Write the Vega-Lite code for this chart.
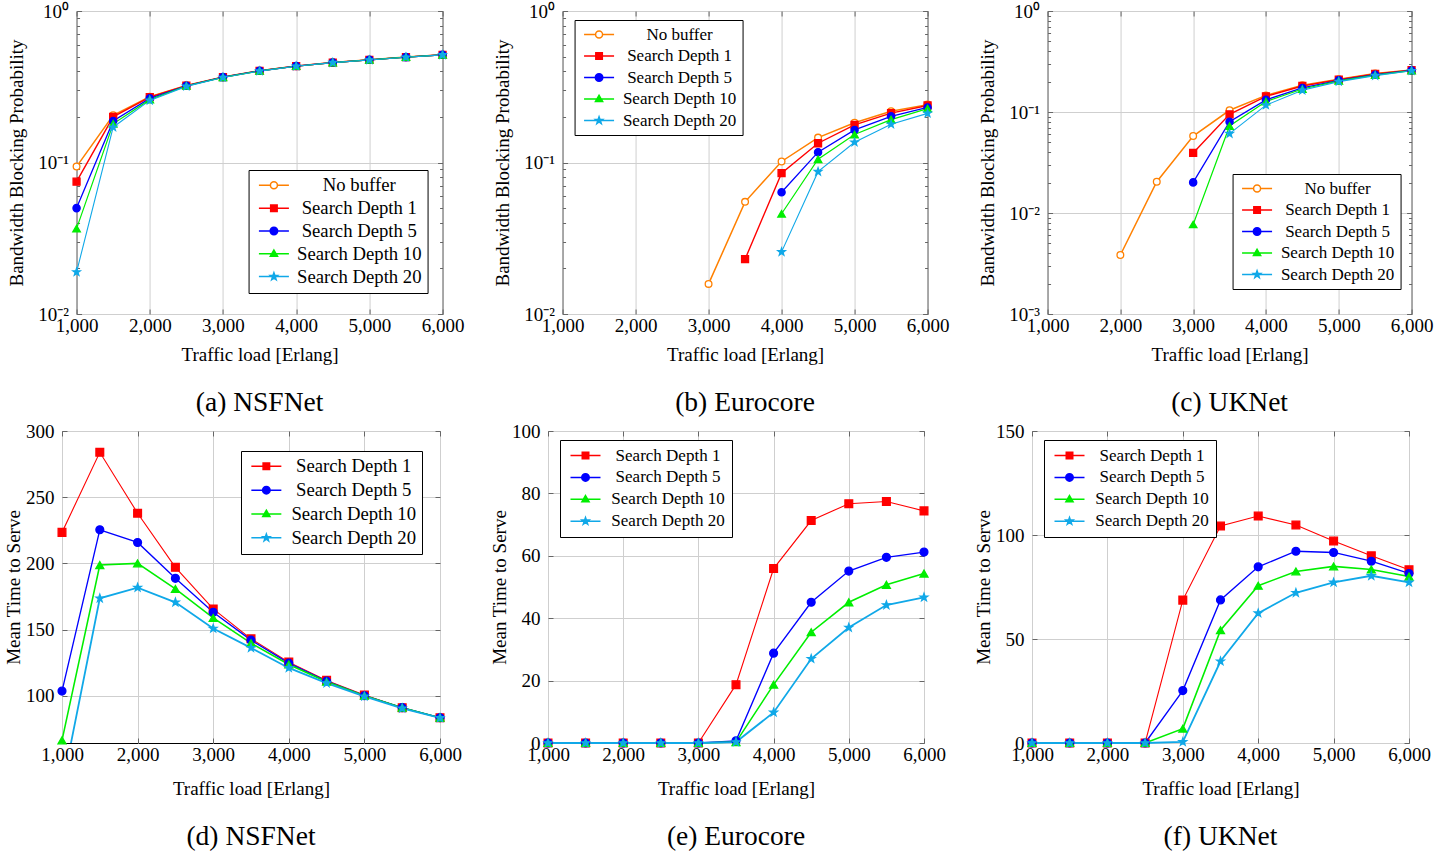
{
"$schema": "https://vega.github.io/schema/vega-lite/v6.json",
"padding": {"left": 3, "top": 1, "right": 0, "bottom": 0},
"background": "white",
"config": {
  "font": "Liberation Serif",
  "view": {"stroke": "black", "strokeWidth": 1},
  "axis": {"labelFont": "Liberation Serif", "titleFont": "Liberation Serif", "labelFontSize": 19, "titleFontSize": 19, "titleFontWeight": "normal", "labelColor": "black", "titleColor": "black", "domain": false, "ticks": true, "tickSize": -5, "tickColor": "#666666", "gridColor": "#cfcfcf", "gridWidth": 1, "labelFlush": false, "labelOverlap": false, "labelPadding": 7, "titlePadding": 10},
  "axisY": {"labelPadding": 13, "titlePadding": 8},
  "legend": {"labelFont": "Liberation Serif", "labelFontSize": 17, "labelColor": "black", "strokeColor": "black", "fillColor": "white", "padding": 7, "symbolSize": 100, "symbolStrokeWidth": 1.5, "labelAlign": "center", "labelOffset": 82, "rowPadding": 3.9, "labelLimit": 400, "symbolOpacity": 1},
  "title": {"font": "Liberation Serif", "fontSize": 27.5, "fontWeight": "normal", "color": "black"}
},
"datasets": {
"a": [
{"x":1000,"s":"No buffer","y":0.094},{"x":1500,"s":"No buffer","y":0.205},{"x":2000,"s":"No buffer","y":0.272},{"x":2500,"s":"No buffer","y":0.323},{"x":3000,"s":"No buffer","y":0.367},{"x":3500,"s":"No buffer","y":0.404},{"x":4000,"s":"No buffer","y":0.434},{"x":4500,"s":"No buffer","y":0.458},{"x":5000,"s":"No buffer","y":0.477},{"x":5500,"s":"No buffer","y":0.497},{"x":6000,"s":"No buffer","y":0.515},
{"x":1000,"s":"Search Depth 1","y":0.0747},{"x":1500,"s":"Search Depth 1","y":0.2},{"x":2000,"s":"Search Depth 1","y":0.27},{"x":2500,"s":"Search Depth 1","y":0.322},{"x":3000,"s":"Search Depth 1","y":0.366},{"x":3500,"s":"Search Depth 1","y":0.403},{"x":4000,"s":"Search Depth 1","y":0.433},{"x":4500,"s":"Search Depth 1","y":0.457},{"x":5000,"s":"Search Depth 1","y":0.476},{"x":5500,"s":"Search Depth 1","y":0.496},{"x":6000,"s":"Search Depth 1","y":0.514},
{"x":1000,"s":"Search Depth 5","y":0.05},{"x":1500,"s":"Search Depth 5","y":0.188},{"x":2000,"s":"Search Depth 5","y":0.265},{"x":2500,"s":"Search Depth 5","y":0.321},{"x":3000,"s":"Search Depth 5","y":0.366},{"x":3500,"s":"Search Depth 5","y":0.403},{"x":4000,"s":"Search Depth 5","y":0.433},{"x":4500,"s":"Search Depth 5","y":0.457},{"x":5000,"s":"Search Depth 5","y":0.476},{"x":5500,"s":"Search Depth 5","y":0.496},{"x":6000,"s":"Search Depth 5","y":0.514},
{"x":1000,"s":"Search Depth 10","y":0.0366},{"x":1500,"s":"Search Depth 10","y":0.18},{"x":2000,"s":"Search Depth 10","y":0.26},{"x":2500,"s":"Search Depth 10","y":0.32},{"x":3000,"s":"Search Depth 10","y":0.365},{"x":3500,"s":"Search Depth 10","y":0.402},{"x":4000,"s":"Search Depth 10","y":0.432},{"x":4500,"s":"Search Depth 10","y":0.456},{"x":5000,"s":"Search Depth 10","y":0.476},{"x":5500,"s":"Search Depth 10","y":0.496},{"x":6000,"s":"Search Depth 10","y":0.514},
{"x":1000,"s":"Search Depth 20","y":0.0189},{"x":1500,"s":"Search Depth 20","y":0.171},{"x":2000,"s":"Search Depth 20","y":0.257},{"x":2500,"s":"Search Depth 20","y":0.318},{"x":3000,"s":"Search Depth 20","y":0.364},{"x":3500,"s":"Search Depth 20","y":0.401},{"x":4000,"s":"Search Depth 20","y":0.432},{"x":4500,"s":"Search Depth 20","y":0.456},{"x":5000,"s":"Search Depth 20","y":0.475},{"x":5500,"s":"Search Depth 20","y":0.495},{"x":6000,"s":"Search Depth 20","y":0.513}
],
"b": [
{"x":3000,"s":"No buffer","y":0.0158},{"x":3500,"s":"No buffer","y":0.055},{"x":4000,"s":"No buffer","y":0.1016},{"x":4500,"s":"No buffer","y":0.146},{"x":5000,"s":"No buffer","y":0.183},{"x":5500,"s":"No buffer","y":0.218},{"x":6000,"s":"No buffer","y":0.241},
{"x":3500,"s":"Search Depth 1","y":0.023},{"x":4000,"s":"Search Depth 1","y":0.085},{"x":4500,"s":"Search Depth 1","y":0.134},{"x":5000,"s":"Search Depth 1","y":0.177},{"x":5500,"s":"Search Depth 1","y":0.212},{"x":6000,"s":"Search Depth 1","y":0.238},
{"x":4000,"s":"Search Depth 5","y":0.0636},{"x":4500,"s":"Search Depth 5","y":0.117},{"x":5000,"s":"Search Depth 5","y":0.164},{"x":5500,"s":"Search Depth 5","y":0.2016},{"x":6000,"s":"Search Depth 5","y":0.231},
{"x":4000,"s":"Search Depth 10","y":0.0459},{"x":4500,"s":"Search Depth 10","y":0.105},{"x":5000,"s":"Search Depth 10","y":0.153},{"x":5500,"s":"Search Depth 10","y":0.192},{"x":6000,"s":"Search Depth 10","y":0.227},
{"x":4000,"s":"Search Depth 20","y":0.0257},{"x":4500,"s":"Search Depth 20","y":0.087},{"x":5000,"s":"Search Depth 20","y":0.136},{"x":5500,"s":"Search Depth 20","y":0.179},{"x":6000,"s":"Search Depth 20","y":0.211}
],
"c": [
{"x":2000,"s":"No buffer","y":0.00384},{"x":2500,"s":"No buffer","y":0.0204},{"x":3000,"s":"No buffer","y":0.0578},{"x":3500,"s":"No buffer","y":0.104},{"x":4000,"s":"No buffer","y":0.146},{"x":4500,"s":"No buffer","y":0.184},{"x":5000,"s":"No buffer","y":0.211},{"x":5500,"s":"No buffer","y":0.24},{"x":6000,"s":"No buffer","y":0.26},
{"x":3000,"s":"Search Depth 1","y":0.0393},{"x":3500,"s":"Search Depth 1","y":0.0948},{"x":4000,"s":"Search Depth 1","y":0.143},{"x":4500,"s":"Search Depth 1","y":0.181},{"x":5000,"s":"Search Depth 1","y":0.209},{"x":5500,"s":"Search Depth 1","y":0.238},{"x":6000,"s":"Search Depth 1","y":0.26},
{"x":3000,"s":"Search Depth 5","y":0.0201},{"x":3500,"s":"Search Depth 5","y":0.08},{"x":4000,"s":"Search Depth 5","y":0.132},{"x":4500,"s":"Search Depth 5","y":0.173},{"x":5000,"s":"Search Depth 5","y":0.206},{"x":5500,"s":"Search Depth 5","y":0.234},{"x":6000,"s":"Search Depth 5","y":0.258},
{"x":3000,"s":"Search Depth 10","y":0.0077},{"x":3500,"s":"Search Depth 10","y":0.0727},{"x":4000,"s":"Search Depth 10","y":0.127},{"x":4500,"s":"Search Depth 10","y":0.169},{"x":5000,"s":"Search Depth 10","y":0.203},{"x":5500,"s":"Search Depth 10","y":0.232},{"x":6000,"s":"Search Depth 10","y":0.257},
{"x":3500,"s":"Search Depth 20","y":0.061},{"x":4000,"s":"Search Depth 20","y":0.117},{"x":4500,"s":"Search Depth 20","y":0.164},{"x":5000,"s":"Search Depth 20","y":0.2},{"x":5500,"s":"Search Depth 20","y":0.229},{"x":6000,"s":"Search Depth 20","y":0.256}
],
"d": [
{"x":1000,"s":"Search Depth 1","y":223.4},{"x":1500,"s":"Search Depth 1","y":283.9},{"x":2000,"s":"Search Depth 1","y":237.9},{"x":2500,"s":"Search Depth 1","y":197},{"x":3000,"s":"Search Depth 1","y":165.6},{"x":3500,"s":"Search Depth 1","y":143},{"x":4000,"s":"Search Depth 1","y":125.4},{"x":4500,"s":"Search Depth 1","y":111.6},{"x":5000,"s":"Search Depth 1","y":100.5},{"x":5500,"s":"Search Depth 1","y":91},{"x":6000,"s":"Search Depth 1","y":83.4},
{"x":1000,"s":"Search Depth 5","y":103.5},{"x":1500,"s":"Search Depth 5","y":225.4},{"x":2000,"s":"Search Depth 5","y":215.8},{"x":2500,"s":"Search Depth 5","y":188.7},{"x":3000,"s":"Search Depth 5","y":163},{"x":3500,"s":"Search Depth 5","y":142},{"x":4000,"s":"Search Depth 5","y":124.6},{"x":4500,"s":"Search Depth 5","y":111},{"x":5000,"s":"Search Depth 5","y":100},{"x":5500,"s":"Search Depth 5","y":91},{"x":6000,"s":"Search Depth 5","y":83.4},
{"x":1000,"s":"Search Depth 10","y":66.3},{"x":1500,"s":"Search Depth 10","y":198.7},{"x":2000,"s":"Search Depth 10","y":200},{"x":2500,"s":"Search Depth 10","y":180.7},{"x":3000,"s":"Search Depth 10","y":158.8},{"x":3500,"s":"Search Depth 10","y":139.7},{"x":4000,"s":"Search Depth 10","y":123.6},{"x":4500,"s":"Search Depth 10","y":110.6},{"x":5000,"s":"Search Depth 10","y":100},{"x":5500,"s":"Search Depth 10","y":91},{"x":6000,"s":"Search Depth 10","y":83.4},
{"x":1000,"s":"Search Depth 20","y":30.2},{"x":1500,"s":"Search Depth 20","y":173.6},{"x":2000,"s":"Search Depth 20","y":181.7},{"x":2500,"s":"Search Depth 20","y":170.6},{"x":3000,"s":"Search Depth 20","y":150.8},{"x":3500,"s":"Search Depth 20","y":136.2},{"x":4000,"s":"Search Depth 20","y":121},{"x":4500,"s":"Search Depth 20","y":109.5},{"x":5000,"s":"Search Depth 20","y":99.5},{"x":5500,"s":"Search Depth 20","y":90.5},{"x":6000,"s":"Search Depth 20","y":83.2}
],
"e": [
{"x":1000,"s":"Search Depth 1","y":0},{"x":1500,"s":"Search Depth 1","y":0},{"x":2000,"s":"Search Depth 1","y":0},{"x":2500,"s":"Search Depth 1","y":0},{"x":3000,"s":"Search Depth 1","y":0},{"x":3500,"s":"Search Depth 1","y":18.7},{"x":4000,"s":"Search Depth 1","y":55.9},{"x":4500,"s":"Search Depth 1","y":71.3},{"x":5000,"s":"Search Depth 1","y":76.7},{"x":5500,"s":"Search Depth 1","y":77.4},{"x":6000,"s":"Search Depth 1","y":74.4},
{"x":1000,"s":"Search Depth 5","y":0},{"x":1500,"s":"Search Depth 5","y":0},{"x":2000,"s":"Search Depth 5","y":0},{"x":2500,"s":"Search Depth 5","y":0},{"x":3000,"s":"Search Depth 5","y":0},{"x":3500,"s":"Search Depth 5","y":0.7},{"x":4000,"s":"Search Depth 5","y":28.8},{"x":4500,"s":"Search Depth 5","y":45.1},{"x":5000,"s":"Search Depth 5","y":55.1},{"x":5500,"s":"Search Depth 5","y":59.5},{"x":6000,"s":"Search Depth 5","y":61.2},
{"x":1000,"s":"Search Depth 10","y":0},{"x":1500,"s":"Search Depth 10","y":0},{"x":2000,"s":"Search Depth 10","y":0},{"x":2500,"s":"Search Depth 10","y":0},{"x":3000,"s":"Search Depth 10","y":0},{"x":3500,"s":"Search Depth 10","y":0.3},{"x":4000,"s":"Search Depth 10","y":18.7},{"x":4500,"s":"Search Depth 10","y":35.5},{"x":5000,"s":"Search Depth 10","y":45.1},{"x":5500,"s":"Search Depth 10","y":50.7},{"x":6000,"s":"Search Depth 10","y":54.3},
{"x":1000,"s":"Search Depth 20","y":0},{"x":1500,"s":"Search Depth 20","y":0},{"x":2000,"s":"Search Depth 20","y":0},{"x":2500,"s":"Search Depth 20","y":0},{"x":3000,"s":"Search Depth 20","y":0},{"x":3500,"s":"Search Depth 20","y":0.3},{"x":4000,"s":"Search Depth 20","y":9.8},{"x":4500,"s":"Search Depth 20","y":27},{"x":5000,"s":"Search Depth 20","y":37},{"x":5500,"s":"Search Depth 20","y":44.2},{"x":6000,"s":"Search Depth 20","y":46.7}
],
"f": [
{"x":1000,"s":"Search Depth 1","y":0},{"x":1500,"s":"Search Depth 1","y":0},{"x":2000,"s":"Search Depth 1","y":0},{"x":2500,"s":"Search Depth 1","y":0},{"x":3000,"s":"Search Depth 1","y":68.7},{"x":3500,"s":"Search Depth 1","y":104.3},{"x":4000,"s":"Search Depth 1","y":109.1},{"x":4500,"s":"Search Depth 1","y":104.8},{"x":5000,"s":"Search Depth 1","y":97.1},{"x":5500,"s":"Search Depth 1","y":90},{"x":6000,"s":"Search Depth 1","y":83.3},
{"x":1000,"s":"Search Depth 5","y":0},{"x":1500,"s":"Search Depth 5","y":0},{"x":2000,"s":"Search Depth 5","y":0},{"x":2500,"s":"Search Depth 5","y":0},{"x":3000,"s":"Search Depth 5","y":25.2},{"x":3500,"s":"Search Depth 5","y":68.8},{"x":4000,"s":"Search Depth 5","y":84.7},{"x":4500,"s":"Search Depth 5","y":92.2},{"x":5000,"s":"Search Depth 5","y":91.6},{"x":5500,"s":"Search Depth 5","y":87.4},{"x":6000,"s":"Search Depth 5","y":81.5},
{"x":1000,"s":"Search Depth 10","y":0},{"x":1500,"s":"Search Depth 10","y":0},{"x":2000,"s":"Search Depth 10","y":0},{"x":2500,"s":"Search Depth 10","y":0},{"x":3000,"s":"Search Depth 10","y":6.9},{"x":3500,"s":"Search Depth 10","y":54.2},{"x":4000,"s":"Search Depth 10","y":75.6},{"x":4500,"s":"Search Depth 10","y":82.5},{"x":5000,"s":"Search Depth 10","y":84.9},{"x":5500,"s":"Search Depth 10","y":83.4},{"x":6000,"s":"Search Depth 10","y":80},
{"x":1000,"s":"Search Depth 20","y":0},{"x":1500,"s":"Search Depth 20","y":0},{"x":2000,"s":"Search Depth 20","y":0},{"x":2500,"s":"Search Depth 20","y":0},{"x":3000,"s":"Search Depth 20","y":0.5},{"x":3500,"s":"Search Depth 20","y":39.3},{"x":4000,"s":"Search Depth 20","y":62.4},{"x":4500,"s":"Search Depth 20","y":72.2},{"x":5000,"s":"Search Depth 20","y":77.2},{"x":5500,"s":"Search Depth 20","y":80.4},{"x":6000,"s":"Search Depth 20","y":77.2}
]
},
"vconcat": [
{"hconcat": [
    {"width": 366, "height": 303, "data": {"name": "a"},
     "title": {"text": "(a) NSFNet", "orient": "bottom", "offset": 25},
     "resolve": {"scale": {"color": "independent", "fill": "independent", "stroke": "independent", "shape": "independent", "size": "independent", "strokeWidth": "independent"}, "axis": {"x": "independent", "y": "independent"}},
     "layer": [
      {"mark": {"type": "line"},
       "encoding": {
        "x": {"field": "x", "type": "quantitative", "scale": {"domain": [1000, 6000], "nice": false, "zero": false}, "axis": {"orient": "bottom", "values": [1000, 2000, 3000, 4000, 5000, 6000], "format": ",.0f", "title": "Traffic load [Erlang]", "grid": true}},
        "y": {"field": "y", "type": "quantitative", "scale": {"type": "log", "domain": [0.01, 1], "nice": false}, "axis": {"orient": "left", "values": [0.01, 0.1, 1], "labelExpr": "datum.value > 0.5 ? '10⁰' : datum.value > 0.05 ? '10⁻¹' : datum.value > 0.005 ? '10⁻²' : '10⁻³'", "grid": true, "title": "Bandwidth Blocking Probability", "titlePadding": 11}},
        "color": {"field": "s", "type": "nominal", "scale": {"domain": ["No buffer", "Search Depth 1", "Search Depth 5", "Search Depth 10", "Search Depth 20"], "range": ["#ff8000", "#ff0000", "#0000ff", "#00ee00", "#10a8e8"]}, "legend": null},
        "strokeWidth": {"field": "s", "type": "nominal", "scale": {"domain": ["No buffer", "Search Depth 1", "Search Depth 5", "Search Depth 10", "Search Depth 20"], "range": [1.5, 1.1, 1.8, 1.1, 2.6]}, "legend": null}
       }},
      {"mark": {"type": "point", "filled": true, "opacity": 1, "strokeWidth": 1.3},
       "encoding": {
        "x": {"field": "x", "type": "quantitative", "scale": {"domain": [1000, 6000], "nice": false, "zero": false}, "axis": {"orient": "top", "values": [1000, 2000, 3000, 4000, 5000, 6000], "labels": false, "grid": false, "title": null}},
        "y": {"field": "y", "type": "quantitative", "scale": {"type": "log", "domain": [0.01, 1], "nice": false}, "axis": {"orient": "right", "values": [0.01, 0.1, 1], "labels": false, "grid": false, "title": null}},
        "fill": {"field": "s", "type": "nominal", "scale": {"domain": ["No buffer", "Search Depth 1", "Search Depth 5", "Search Depth 10", "Search Depth 20"], "range": ["white", "#ff0000", "#0000ff", "#00ee00", "#10a8e8"]}, "legend": null},
        "stroke": {"field": "s", "type": "nominal", "scale": {"domain": ["No buffer", "Search Depth 1", "Search Depth 5", "Search Depth 10", "Search Depth 20"], "range": ["#ff8000", "#ff0000", "#0000ff", "#00ee00", "#10a8e8"]}, "legend": null},
        "shape": {"field": "s", "type": "nominal", "scale": {"domain": ["No buffer", "Search Depth 1", "Search Depth 5", "Search Depth 10", "Search Depth 20"], "range": ["circle", "square", "circle", "triangle-up", "M0,-1L0.235,-0.324L0.951,-0.309L0.38,0.124L0.588,0.809L0,0.4L-0.588,0.809L-0.38,0.124L-0.951,-0.309L-0.235,-0.324Z"]}, "legend": null},
        "size": {"field": "s", "type": "nominal", "scale": {"domain": ["No buffer", "Search Depth 1", "Search Depth 5", "Search Depth 10", "Search Depth 20"], "range": [45, 60, 65, 55, 75]}, "legend": null}
       }},
      {"transform": [{"filter": "false"}],
       "mark": {"type": "point", "filled": true},
       "encoding": {
        "x": {"field": "x", "type": "quantitative", "scale": {"domain": [1000, 6000], "nice": false, "zero": false}, "axis": null},
        "y": {"field": "y", "type": "quantitative", "scale": {"type": "log", "domain": [0.01, 1], "nice": false}, "axis": {"orient": "left", "values": [0.02, 0.03, 0.04, 0.05, 0.06, 0.07, 0.08, 0.09, 0.2, 0.3, 0.4, 0.5, 0.6, 0.7, 0.8, 0.9], "labels": false, "grid": false, "title": null, "tickSize": -3}},
        "fill": {"field": "s", "type": "nominal", "title": null, "scale": {"domain": ["No buffer", "Search Depth 1", "Search Depth 5", "Search Depth 10", "Search Depth 20"], "range": ["white", "#ff0000", "#0000ff", "#00ee00", "#10a8e8"]}, "legend": {"orient": "none", "legendX": 172, "legendY": 159, "labelFontSize": 18.7, "labelOffset": 86, "rowPadding": 2.8, "padding": 6}},
        "stroke": {"field": "s", "type": "nominal", "title": null, "scale": {"domain": ["No buffer", "Search Depth 1", "Search Depth 5", "Search Depth 10", "Search Depth 20"], "range": ["#ff8000", "#ff0000", "#0000ff", "#00ee00", "#10a8e8"]}, "legend": {"orient": "none", "legendX": 172, "legendY": 159, "labelFontSize": 18.7, "labelOffset": 86, "rowPadding": 2.8, "padding": 6}},
        "shape": {"field": "s", "type": "nominal", "title": null, "scale": {"domain": ["No buffer", "Search Depth 1", "Search Depth 5", "Search Depth 10", "Search Depth 20"], "range": ["M-1,0H1.3M2.7,0H5M2.7,0A0.7,0.7 0 1 1 1.3,0A0.7,0.7 0 1 1 2.7,0Z", "M-1,0H5M1.35,-0.65H2.65V0.65H1.35Z", "M-1,0H5M2.75,0A0.75,0.75 0 1 1 1.25,0A0.75,0.75 0 1 1 2.75,0Z", "M-1,0H5M2,-0.75L2.72,0.5H1.28Z", "M-1,0H5M2,-0.75L2.176,-0.243L2.713,-0.232L2.285,0.093L2.441,0.607L2,0.3L1.559,0.607L1.715,0.093L1.287,-0.232L1.824,-0.243Z"]}, "legend": {"orient": "none", "legendX": 172, "legendY": 159, "labelFontSize": 18.7, "labelOffset": 86, "rowPadding": 2.8, "padding": 6}}
       }},
      {"transform": [{"filter": "false"}],
       "mark": {"type": "point"},
       "encoding": {
        "x": {"field": "x", "type": "quantitative", "scale": {"domain": [1000, 6000], "nice": false, "zero": false}, "axis": null},
        "y": {"field": "y", "type": "quantitative", "scale": {"type": "log", "domain": [0.01, 1], "nice": false}, "axis": {"orient": "right", "values": [0.02, 0.03, 0.04, 0.05, 0.06, 0.07, 0.08, 0.09, 0.2, 0.3, 0.4, 0.5, 0.6, 0.7, 0.8, 0.9], "labels": false, "grid": false, "title": null, "tickSize": -3}}
       }}
     ]},
    {"width": 365, "height": 303, "data": {"name": "b"},
     "title": {"text": "(b) Eurocore", "orient": "bottom", "offset": 25},
     "resolve": {"scale": {"color": "independent", "fill": "independent", "stroke": "independent", "shape": "independent", "size": "independent", "strokeWidth": "independent"}, "axis": {"x": "independent", "y": "independent"}},
     "layer": [
      {"mark": {"type": "line"},
       "encoding": {
        "x": {"field": "x", "type": "quantitative", "scale": {"domain": [1000, 6000], "nice": false, "zero": false}, "axis": {"orient": "bottom", "values": [1000, 2000, 3000, 4000, 5000, 6000], "format": ",.0f", "title": "Traffic load [Erlang]", "grid": true}},
        "y": {"field": "y", "type": "quantitative", "scale": {"type": "log", "domain": [0.01, 1], "nice": false}, "axis": {"orient": "left", "values": [0.01, 0.1, 1], "labelExpr": "datum.value > 0.5 ? '10⁰' : datum.value > 0.05 ? '10⁻¹' : datum.value > 0.005 ? '10⁻²' : '10⁻³'", "grid": true, "title": "Bandwidth Blocking Probability", "titlePadding": 11}},
        "color": {"field": "s", "type": "nominal", "scale": {"domain": ["No buffer", "Search Depth 1", "Search Depth 5", "Search Depth 10", "Search Depth 20"], "range": ["#ff8000", "#ff0000", "#0000ff", "#00ee00", "#10a8e8"]}, "legend": null},
        "strokeWidth": {"field": "s", "type": "nominal", "scale": {"domain": ["No buffer", "Search Depth 1", "Search Depth 5", "Search Depth 10", "Search Depth 20"], "range": [1.5, 1.1, 1.8, 1.1, 2.6]}, "legend": null}
       }},
      {"mark": {"type": "point", "filled": true, "opacity": 1, "strokeWidth": 1.3},
       "encoding": {
        "x": {"field": "x", "type": "quantitative", "scale": {"domain": [1000, 6000], "nice": false, "zero": false}, "axis": {"orient": "top", "values": [1000, 2000, 3000, 4000, 5000, 6000], "labels": false, "grid": false, "title": null}},
        "y": {"field": "y", "type": "quantitative", "scale": {"type": "log", "domain": [0.01, 1], "nice": false}, "axis": {"orient": "right", "values": [0.01, 0.1, 1], "labels": false, "grid": false, "title": null}},
        "fill": {"field": "s", "type": "nominal", "scale": {"domain": ["No buffer", "Search Depth 1", "Search Depth 5", "Search Depth 10", "Search Depth 20"], "range": ["white", "#ff0000", "#0000ff", "#00ee00", "#10a8e8"]}, "legend": null},
        "stroke": {"field": "s", "type": "nominal", "scale": {"domain": ["No buffer", "Search Depth 1", "Search Depth 5", "Search Depth 10", "Search Depth 20"], "range": ["#ff8000", "#ff0000", "#0000ff", "#00ee00", "#10a8e8"]}, "legend": null},
        "shape": {"field": "s", "type": "nominal", "scale": {"domain": ["No buffer", "Search Depth 1", "Search Depth 5", "Search Depth 10", "Search Depth 20"], "range": ["circle", "square", "circle", "triangle-up", "M0,-1L0.235,-0.324L0.951,-0.309L0.38,0.124L0.588,0.809L0,0.4L-0.588,0.809L-0.38,0.124L-0.951,-0.309L-0.235,-0.324Z"]}, "legend": null},
        "size": {"field": "s", "type": "nominal", "scale": {"domain": ["No buffer", "Search Depth 1", "Search Depth 5", "Search Depth 10", "Search Depth 20"], "range": [45, 60, 65, 55, 75]}, "legend": null}
       }},
      {"transform": [{"filter": "false"}],
       "mark": {"type": "point", "filled": true},
       "encoding": {
        "x": {"field": "x", "type": "quantitative", "scale": {"domain": [1000, 6000], "nice": false, "zero": false}, "axis": null},
        "y": {"field": "y", "type": "quantitative", "scale": {"type": "log", "domain": [0.01, 1], "nice": false}, "axis": {"orient": "left", "values": [0.02, 0.03, 0.04, 0.05, 0.06, 0.07, 0.08, 0.09, 0.2, 0.3, 0.4, 0.5, 0.6, 0.7, 0.8, 0.9], "labels": false, "grid": false, "title": null, "tickSize": -3}},
        "fill": {"field": "s", "type": "nominal", "title": null, "scale": {"domain": ["No buffer", "Search Depth 1", "Search Depth 5", "Search Depth 10", "Search Depth 20"], "range": ["white", "#ff0000", "#0000ff", "#00ee00", "#10a8e8"]}, "legend": {"orient": "none", "legendX": 12, "legendY": 9, "rowPadding": 3.5, "padding": 6}},
        "stroke": {"field": "s", "type": "nominal", "title": null, "scale": {"domain": ["No buffer", "Search Depth 1", "Search Depth 5", "Search Depth 10", "Search Depth 20"], "range": ["#ff8000", "#ff0000", "#0000ff", "#00ee00", "#10a8e8"]}, "legend": {"orient": "none", "legendX": 12, "legendY": 9, "rowPadding": 3.5, "padding": 6}},
        "shape": {"field": "s", "type": "nominal", "title": null, "scale": {"domain": ["No buffer", "Search Depth 1", "Search Depth 5", "Search Depth 10", "Search Depth 20"], "range": ["M-1,0H1.3M2.7,0H5M2.7,0A0.7,0.7 0 1 1 1.3,0A0.7,0.7 0 1 1 2.7,0Z", "M-1,0H5M1.35,-0.65H2.65V0.65H1.35Z", "M-1,0H5M2.75,0A0.75,0.75 0 1 1 1.25,0A0.75,0.75 0 1 1 2.75,0Z", "M-1,0H5M2,-0.75L2.72,0.5H1.28Z", "M-1,0H5M2,-0.75L2.176,-0.243L2.713,-0.232L2.285,0.093L2.441,0.607L2,0.3L1.559,0.607L1.715,0.093L1.287,-0.232L1.824,-0.243Z"]}, "legend": {"orient": "none", "legendX": 12, "legendY": 9, "rowPadding": 3.5, "padding": 6}}
       }},
      {"transform": [{"filter": "false"}],
       "mark": {"type": "point"},
       "encoding": {
        "x": {"field": "x", "type": "quantitative", "scale": {"domain": [1000, 6000], "nice": false, "zero": false}, "axis": null},
        "y": {"field": "y", "type": "quantitative", "scale": {"type": "log", "domain": [0.01, 1], "nice": false}, "axis": {"orient": "right", "values": [0.02, 0.03, 0.04, 0.05, 0.06, 0.07, 0.08, 0.09, 0.2, 0.3, 0.4, 0.5, 0.6, 0.7, 0.8, 0.9], "labels": false, "grid": false, "title": null, "tickSize": -3}}
       }}
     ]},
    {"width": 364, "height": 303, "data": {"name": "c"},
     "title": {"text": "(c) UKNet", "orient": "bottom", "offset": 25},
     "resolve": {"scale": {"color": "independent", "fill": "independent", "stroke": "independent", "shape": "independent", "size": "independent", "strokeWidth": "independent"}, "axis": {"x": "independent", "y": "independent"}},
     "layer": [
      {"mark": {"type": "line"},
       "encoding": {
        "x": {"field": "x", "type": "quantitative", "scale": {"domain": [1000, 6000], "nice": false, "zero": false}, "axis": {"orient": "bottom", "values": [1000, 2000, 3000, 4000, 5000, 6000], "format": ",.0f", "title": "Traffic load [Erlang]", "grid": true}},
        "y": {"field": "y", "type": "quantitative", "scale": {"type": "log", "domain": [0.001, 1], "nice": false}, "axis": {"orient": "left", "values": [0.001, 0.01, 0.1, 1], "labelExpr": "datum.value > 0.5 ? '10⁰' : datum.value > 0.05 ? '10⁻¹' : datum.value > 0.005 ? '10⁻²' : '10⁻³'", "grid": true, "title": "Bandwidth Blocking Probability", "titlePadding": 11}},
        "color": {"field": "s", "type": "nominal", "scale": {"domain": ["No buffer", "Search Depth 1", "Search Depth 5", "Search Depth 10", "Search Depth 20"], "range": ["#ff8000", "#ff0000", "#0000ff", "#00ee00", "#10a8e8"]}, "legend": null},
        "strokeWidth": {"field": "s", "type": "nominal", "scale": {"domain": ["No buffer", "Search Depth 1", "Search Depth 5", "Search Depth 10", "Search Depth 20"], "range": [1.5, 1.1, 1.8, 1.1, 2.6]}, "legend": null}
       }},
      {"mark": {"type": "point", "filled": true, "opacity": 1, "strokeWidth": 1.3},
       "encoding": {
        "x": {"field": "x", "type": "quantitative", "scale": {"domain": [1000, 6000], "nice": false, "zero": false}, "axis": {"orient": "top", "values": [1000, 2000, 3000, 4000, 5000, 6000], "labels": false, "grid": false, "title": null}},
        "y": {"field": "y", "type": "quantitative", "scale": {"type": "log", "domain": [0.001, 1], "nice": false}, "axis": {"orient": "right", "values": [0.001, 0.01, 0.1, 1], "labels": false, "grid": false, "title": null}},
        "fill": {"field": "s", "type": "nominal", "scale": {"domain": ["No buffer", "Search Depth 1", "Search Depth 5", "Search Depth 10", "Search Depth 20"], "range": ["white", "#ff0000", "#0000ff", "#00ee00", "#10a8e8"]}, "legend": null},
        "stroke": {"field": "s", "type": "nominal", "scale": {"domain": ["No buffer", "Search Depth 1", "Search Depth 5", "Search Depth 10", "Search Depth 20"], "range": ["#ff8000", "#ff0000", "#0000ff", "#00ee00", "#10a8e8"]}, "legend": null},
        "shape": {"field": "s", "type": "nominal", "scale": {"domain": ["No buffer", "Search Depth 1", "Search Depth 5", "Search Depth 10", "Search Depth 20"], "range": ["circle", "square", "circle", "triangle-up", "M0,-1L0.235,-0.324L0.951,-0.309L0.38,0.124L0.588,0.809L0,0.4L-0.588,0.809L-0.38,0.124L-0.951,-0.309L-0.235,-0.324Z"]}, "legend": null},
        "size": {"field": "s", "type": "nominal", "scale": {"domain": ["No buffer", "Search Depth 1", "Search Depth 5", "Search Depth 10", "Search Depth 20"], "range": [45, 60, 65, 55, 75]}, "legend": null}
       }},
      {"transform": [{"filter": "false"}],
       "mark": {"type": "point", "filled": true},
       "encoding": {
        "x": {"field": "x", "type": "quantitative", "scale": {"domain": [1000, 6000], "nice": false, "zero": false}, "axis": null},
        "y": {"field": "y", "type": "quantitative", "scale": {"type": "log", "domain": [0.001, 1], "nice": false}, "axis": {"orient": "left", "values": [0.002, 0.003, 0.004, 0.005, 0.006, 0.007, 0.008, 0.009, 0.02, 0.03, 0.04, 0.05, 0.06, 0.07, 0.08, 0.09, 0.2, 0.3, 0.4, 0.5, 0.6, 0.7, 0.8, 0.9], "labels": false, "grid": false, "title": null, "tickSize": -3}},
        "fill": {"field": "s", "type": "nominal", "title": null, "scale": {"domain": ["No buffer", "Search Depth 1", "Search Depth 5", "Search Depth 10", "Search Depth 20"], "range": ["white", "#ff0000", "#0000ff", "#00ee00", "#10a8e8"]}, "legend": {"orient": "none", "legendX": 185, "legendY": 163, "rowPadding": 3.5, "padding": 6}},
        "stroke": {"field": "s", "type": "nominal", "title": null, "scale": {"domain": ["No buffer", "Search Depth 1", "Search Depth 5", "Search Depth 10", "Search Depth 20"], "range": ["#ff8000", "#ff0000", "#0000ff", "#00ee00", "#10a8e8"]}, "legend": {"orient": "none", "legendX": 185, "legendY": 163, "rowPadding": 3.5, "padding": 6}},
        "shape": {"field": "s", "type": "nominal", "title": null, "scale": {"domain": ["No buffer", "Search Depth 1", "Search Depth 5", "Search Depth 10", "Search Depth 20"], "range": ["M-1,0H1.3M2.7,0H5M2.7,0A0.7,0.7 0 1 1 1.3,0A0.7,0.7 0 1 1 2.7,0Z", "M-1,0H5M1.35,-0.65H2.65V0.65H1.35Z", "M-1,0H5M2.75,0A0.75,0.75 0 1 1 1.25,0A0.75,0.75 0 1 1 2.75,0Z", "M-1,0H5M2,-0.75L2.72,0.5H1.28Z", "M-1,0H5M2,-0.75L2.176,-0.243L2.713,-0.232L2.285,0.093L2.441,0.607L2,0.3L1.559,0.607L1.715,0.093L1.287,-0.232L1.824,-0.243Z"]}, "legend": {"orient": "none", "legendX": 185, "legendY": 163, "rowPadding": 3.5, "padding": 6}}
       }},
      {"transform": [{"filter": "false"}],
       "mark": {"type": "point"},
       "encoding": {
        "x": {"field": "x", "type": "quantitative", "scale": {"domain": [1000, 6000], "nice": false, "zero": false}, "axis": null},
        "y": {"field": "y", "type": "quantitative", "scale": {"type": "log", "domain": [0.001, 1], "nice": false}, "axis": {"orient": "right", "values": [0.002, 0.003, 0.004, 0.005, 0.006, 0.007, 0.008, 0.009, 0.02, 0.03, 0.04, 0.05, 0.06, 0.07, 0.08, 0.09, 0.2, 0.3, 0.4, 0.5, 0.6, 0.7, 0.8, 0.9], "labels": false, "grid": false, "title": null, "tickSize": -3}}
       }}
     ]}
  ], "spacing": 120, "bounds": "flush"},
{"hconcat": [
    {"width": 378, "height": 312, "data": {"name": "d"},
     "title": {"text": "(d) NSFNet", "orient": "bottom", "offset": 25},
     "resolve": {"scale": {"color": "independent", "fill": "independent", "stroke": "independent", "shape": "independent", "size": "independent", "strokeWidth": "independent"}, "axis": {"x": "independent", "y": "independent"}},
     "layer": [
      {"mark": {"type": "line", "clip": true},
       "encoding": {
        "x": {"field": "x", "type": "quantitative", "scale": {"domain": [1000, 6000], "nice": false, "zero": false}, "axis": {"orient": "bottom", "values": [1000, 2000, 3000, 4000, 5000, 6000], "format": ",.0f", "title": "Traffic load [Erlang]", "grid": true, "titlePadding": 15}},
        "y": {"field": "y", "type": "quantitative", "scale": {"domain": [64.3, 300], "nice": false, "zero": false}, "axis": {"orient": "left", "values": [100, 150, 200, 250, 300], "grid": true, "title": "Mean Time to Serve", "titlePadding": 2.5}},
        "color": {"field": "s", "type": "nominal", "scale": {"domain": ["Search Depth 1", "Search Depth 5", "Search Depth 10", "Search Depth 20"], "range": ["#ff0000", "#0000ff", "#00ee00", "#10a8e8"]}, "legend": null},
        "strokeWidth": {"field": "s", "type": "nominal", "scale": {"domain": ["Search Depth 1", "Search Depth 5", "Search Depth 10", "Search Depth 20"], "range": [1.1, 1.8, 1.1, 2.6]}, "legend": null}
       }},
      {"transform": [{"filter": "datum.y >= 64"}],
       "mark": {"type": "point", "filled": true, "opacity": 1, "strokeWidth": 1.3},
       "encoding": {
        "x": {"field": "x", "type": "quantitative", "scale": {"domain": [1000, 6000], "nice": false, "zero": false}, "axis": {"orient": "top", "values": [1000, 2000, 3000, 4000, 5000, 6000], "labels": false, "grid": false, "title": null}},
        "y": {"field": "y", "type": "quantitative", "scale": {"domain": [64.3, 300], "nice": false, "zero": false}, "axis": {"orient": "right", "values": [100, 150, 200, 250, 300], "labels": false, "grid": false, "title": null}},
        "fill": {"field": "s", "type": "nominal", "scale": {"domain": ["Search Depth 1", "Search Depth 5", "Search Depth 10", "Search Depth 20"], "range": ["#ff0000", "#0000ff", "#00ee00", "#10a8e8"]}, "legend": null},
        "stroke": {"field": "s", "type": "nominal", "scale": {"domain": ["Search Depth 1", "Search Depth 5", "Search Depth 10", "Search Depth 20"], "range": ["#ff0000", "#0000ff", "#00ee00", "#10a8e8"]}, "legend": null},
        "shape": {"field": "s", "type": "nominal", "scale": {"domain": ["Search Depth 1", "Search Depth 5", "Search Depth 10", "Search Depth 20"], "range": ["square", "circle", "triangle-up", "M0,-1L0.235,-0.324L0.951,-0.309L0.38,0.124L0.588,0.809L0,0.4L-0.588,0.809L-0.38,0.124L-0.951,-0.309L-0.235,-0.324Z"]}, "legend": null},
        "size": {"field": "s", "type": "nominal", "scale": {"domain": ["Search Depth 1", "Search Depth 5", "Search Depth 10", "Search Depth 20"], "range": [60, 65, 55, 75]}, "legend": null}
       }},
      {"transform": [{"filter": "false"}],
       "mark": {"type": "point", "filled": true},
       "encoding": {
        "x": {"field": "x", "type": "quantitative", "scale": {"domain": [1000, 6000], "nice": false, "zero": false}, "axis": null},
        "y": {"field": "y", "type": "quantitative", "scale": {"domain": [64.3, 300], "nice": false, "zero": false}, "axis": null},
        "fill": {"field": "s", "type": "nominal", "title": null, "scale": {"domain": ["Search Depth 1", "Search Depth 5", "Search Depth 10", "Search Depth 20"], "range": ["#ff0000", "#0000ff", "#00ee00", "#10a8e8"]}, "legend": {"orient": "none", "legendX": 179, "legendY": 20, "labelFontSize": 18.7, "labelOffset": 88, "rowPadding": 3.8, "padding": 6}},
        "stroke": {"field": "s", "type": "nominal", "title": null, "scale": {"domain": ["Search Depth 1", "Search Depth 5", "Search Depth 10", "Search Depth 20"], "range": ["#ff0000", "#0000ff", "#00ee00", "#10a8e8"]}, "legend": {"orient": "none", "legendX": 179, "legendY": 20, "labelFontSize": 18.7, "labelOffset": 88, "rowPadding": 3.8, "padding": 6}},
        "shape": {"field": "s", "type": "nominal", "title": null, "scale": {"domain": ["Search Depth 1", "Search Depth 5", "Search Depth 10", "Search Depth 20"], "range": ["M-1,0H5M1.35,-0.65H2.65V0.65H1.35Z", "M-1,0H5M2.75,0A0.75,0.75 0 1 1 1.25,0A0.75,0.75 0 1 1 2.75,0Z", "M-1,0H5M2,-0.75L2.72,0.5H1.28Z", "M-1,0H5M2,-0.75L2.176,-0.243L2.713,-0.232L2.285,0.093L2.441,0.607L2,0.3L1.559,0.607L1.715,0.093L1.287,-0.232L1.824,-0.243Z"]}, "legend": {"orient": "none", "legendX": 179, "legendY": 20, "labelFontSize": 18.7, "labelOffset": 88, "rowPadding": 3.8, "padding": 6}}
       }}
     ]},
    {"width": 376, "height": 312, "data": {"name": "e"},
     "title": {"text": "(e) Eurocore", "orient": "bottom", "offset": 25},
     "resolve": {"scale": {"color": "independent", "fill": "independent", "stroke": "independent", "shape": "independent", "size": "independent", "strokeWidth": "independent"}, "axis": {"x": "independent", "y": "independent"}},
     "layer": [
      {"mark": {"type": "line"},
       "encoding": {
        "x": {"field": "x", "type": "quantitative", "scale": {"domain": [1000, 6000], "nice": false, "zero": false}, "axis": {"orient": "bottom", "values": [1000, 2000, 3000, 4000, 5000, 6000], "format": ",.0f", "title": "Traffic load [Erlang]", "grid": true, "titlePadding": 15}},
        "y": {"field": "y", "type": "quantitative", "scale": {"domain": [0, 100], "nice": false}, "axis": {"orient": "left", "values": [0, 20, 40, 60, 80, 100], "grid": true, "title": "Mean Time to Serve", "titlePadding": 2.5}},
        "color": {"field": "s", "type": "nominal", "scale": {"domain": ["Search Depth 1", "Search Depth 5", "Search Depth 10", "Search Depth 20"], "range": ["#ff0000", "#0000ff", "#00ee00", "#10a8e8"]}, "legend": null},
        "strokeWidth": {"field": "s", "type": "nominal", "scale": {"domain": ["Search Depth 1", "Search Depth 5", "Search Depth 10", "Search Depth 20"], "range": [1.1, 1.8, 1.1, 2.6]}, "legend": null}
       }},
      {"mark": {"type": "point", "filled": true, "opacity": 1, "strokeWidth": 1.3},
       "encoding": {
        "x": {"field": "x", "type": "quantitative", "scale": {"domain": [1000, 6000], "nice": false, "zero": false}, "axis": {"orient": "top", "values": [1000, 2000, 3000, 4000, 5000, 6000], "labels": false, "grid": false, "title": null}},
        "y": {"field": "y", "type": "quantitative", "scale": {"domain": [0, 100], "nice": false}, "axis": {"orient": "right", "values": [0, 20, 40, 60, 80, 100], "labels": false, "grid": false, "title": null}},
        "fill": {"field": "s", "type": "nominal", "scale": {"domain": ["Search Depth 1", "Search Depth 5", "Search Depth 10", "Search Depth 20"], "range": ["#ff0000", "#0000ff", "#00ee00", "#10a8e8"]}, "legend": null},
        "stroke": {"field": "s", "type": "nominal", "scale": {"domain": ["Search Depth 1", "Search Depth 5", "Search Depth 10", "Search Depth 20"], "range": ["#ff0000", "#0000ff", "#00ee00", "#10a8e8"]}, "legend": null},
        "shape": {"field": "s", "type": "nominal", "scale": {"domain": ["Search Depth 1", "Search Depth 5", "Search Depth 10", "Search Depth 20"], "range": ["square", "circle", "triangle-up", "M0,-1L0.235,-0.324L0.951,-0.309L0.38,0.124L0.588,0.809L0,0.4L-0.588,0.809L-0.38,0.124L-0.951,-0.309L-0.235,-0.324Z"]}, "legend": null},
        "size": {"field": "s", "type": "nominal", "scale": {"domain": ["Search Depth 1", "Search Depth 5", "Search Depth 10", "Search Depth 20"], "range": [60, 65, 55, 75]}, "legend": null}
       }},
      {"transform": [{"filter": "false"}],
       "mark": {"type": "point", "filled": true},
       "encoding": {
        "x": {"field": "x", "type": "quantitative", "scale": {"domain": [1000, 6000], "nice": false, "zero": false}, "axis": null},
        "y": {"field": "y", "type": "quantitative", "scale": {"domain": [0, 100], "nice": false}, "axis": null},
        "fill": {"field": "s", "type": "nominal", "title": null, "scale": {"domain": ["Search Depth 1", "Search Depth 5", "Search Depth 10", "Search Depth 20"], "range": ["#ff0000", "#0000ff", "#00ee00", "#10a8e8"]}, "legend": {"orient": "none", "legendX": 12, "legendY": 9, "labelOffset": 84}},
        "stroke": {"field": "s", "type": "nominal", "title": null, "scale": {"domain": ["Search Depth 1", "Search Depth 5", "Search Depth 10", "Search Depth 20"], "range": ["#ff0000", "#0000ff", "#00ee00", "#10a8e8"]}, "legend": {"orient": "none", "legendX": 12, "legendY": 9, "labelOffset": 84}},
        "shape": {"field": "s", "type": "nominal", "title": null, "scale": {"domain": ["Search Depth 1", "Search Depth 5", "Search Depth 10", "Search Depth 20"], "range": ["M-1,0H5M1.35,-0.65H2.65V0.65H1.35Z", "M-1,0H5M2.75,0A0.75,0.75 0 1 1 1.25,0A0.75,0.75 0 1 1 2.75,0Z", "M-1,0H5M2,-0.75L2.72,0.5H1.28Z", "M-1,0H5M2,-0.75L2.176,-0.243L2.713,-0.232L2.285,0.093L2.441,0.607L2,0.3L1.559,0.607L1.715,0.093L1.287,-0.232L1.824,-0.243Z"]}, "legend": {"orient": "none", "legendX": 12, "legendY": 9, "labelOffset": 84}}
       }}
     ]},
    {"width": 377, "height": 312, "data": {"name": "f"},
     "title": {"text": "(f) UKNet", "orient": "bottom", "offset": 25},
     "resolve": {"scale": {"color": "independent", "fill": "independent", "stroke": "independent", "shape": "independent", "size": "independent", "strokeWidth": "independent"}, "axis": {"x": "independent", "y": "independent"}},
     "layer": [
      {"mark": {"type": "line"},
       "encoding": {
        "x": {"field": "x", "type": "quantitative", "scale": {"domain": [1000, 6000], "nice": false, "zero": false}, "axis": {"orient": "bottom", "values": [1000, 2000, 3000, 4000, 5000, 6000], "format": ",.0f", "title": "Traffic load [Erlang]", "grid": true, "titlePadding": 15}},
        "y": {"field": "y", "type": "quantitative", "scale": {"domain": [0, 150], "nice": false}, "axis": {"orient": "left", "values": [0, 50, 100, 150], "grid": true, "title": "Mean Time to Serve", "titlePadding": 2.5}},
        "color": {"field": "s", "type": "nominal", "scale": {"domain": ["Search Depth 1", "Search Depth 5", "Search Depth 10", "Search Depth 20"], "range": ["#ff0000", "#0000ff", "#00ee00", "#10a8e8"]}, "legend": null},
        "strokeWidth": {"field": "s", "type": "nominal", "scale": {"domain": ["Search Depth 1", "Search Depth 5", "Search Depth 10", "Search Depth 20"], "range": [1.1, 1.8, 1.1, 2.6]}, "legend": null}
       }},
      {"mark": {"type": "point", "filled": true, "opacity": 1, "strokeWidth": 1.3},
       "encoding": {
        "x": {"field": "x", "type": "quantitative", "scale": {"domain": [1000, 6000], "nice": false, "zero": false}, "axis": {"orient": "top", "values": [1000, 2000, 3000, 4000, 5000, 6000], "labels": false, "grid": false, "title": null}},
        "y": {"field": "y", "type": "quantitative", "scale": {"domain": [0, 150], "nice": false}, "axis": {"orient": "right", "values": [0, 50, 100, 150], "labels": false, "grid": false, "title": " ", "titlePadding": 19}},
        "fill": {"field": "s", "type": "nominal", "scale": {"domain": ["Search Depth 1", "Search Depth 5", "Search Depth 10", "Search Depth 20"], "range": ["#ff0000", "#0000ff", "#00ee00", "#10a8e8"]}, "legend": null},
        "stroke": {"field": "s", "type": "nominal", "scale": {"domain": ["Search Depth 1", "Search Depth 5", "Search Depth 10", "Search Depth 20"], "range": ["#ff0000", "#0000ff", "#00ee00", "#10a8e8"]}, "legend": null},
        "shape": {"field": "s", "type": "nominal", "scale": {"domain": ["Search Depth 1", "Search Depth 5", "Search Depth 10", "Search Depth 20"], "range": ["square", "circle", "triangle-up", "M0,-1L0.235,-0.324L0.951,-0.309L0.38,0.124L0.588,0.809L0,0.4L-0.588,0.809L-0.38,0.124L-0.951,-0.309L-0.235,-0.324Z"]}, "legend": null},
        "size": {"field": "s", "type": "nominal", "scale": {"domain": ["Search Depth 1", "Search Depth 5", "Search Depth 10", "Search Depth 20"], "range": [60, 65, 55, 75]}, "legend": null}
       }},
      {"transform": [{"filter": "false"}],
       "mark": {"type": "point", "filled": true},
       "encoding": {
        "x": {"field": "x", "type": "quantitative", "scale": {"domain": [1000, 6000], "nice": false, "zero": false}, "axis": null},
        "y": {"field": "y", "type": "quantitative", "scale": {"domain": [0, 150], "nice": false}, "axis": null},
        "fill": {"field": "s", "type": "nominal", "title": null, "scale": {"domain": ["Search Depth 1", "Search Depth 5", "Search Depth 10", "Search Depth 20"], "range": ["#ff0000", "#0000ff", "#00ee00", "#10a8e8"]}, "legend": {"orient": "none", "legendX": 12, "legendY": 9, "labelOffset": 84}},
        "stroke": {"field": "s", "type": "nominal", "title": null, "scale": {"domain": ["Search Depth 1", "Search Depth 5", "Search Depth 10", "Search Depth 20"], "range": ["#ff0000", "#0000ff", "#00ee00", "#10a8e8"]}, "legend": {"orient": "none", "legendX": 12, "legendY": 9, "labelOffset": 84}},
        "shape": {"field": "s", "type": "nominal", "title": null, "scale": {"domain": ["Search Depth 1", "Search Depth 5", "Search Depth 10", "Search Depth 20"], "range": ["M-1,0H5M1.35,-0.65H2.65V0.65H1.35Z", "M-1,0H5M2.75,0A0.75,0.75 0 1 1 1.25,0A0.75,0.75 0 1 1 2.75,0Z", "M-1,0H5M2,-0.75L2.72,0.5H1.28Z", "M-1,0H5M2,-0.75L2.176,-0.243L2.713,-0.232L2.285,0.093L2.441,0.607L2,0.3L1.559,0.607L1.715,0.093L1.287,-0.232L1.824,-0.243Z"]}, "legend": {"orient": "none", "legendX": 12, "legendY": 9, "labelOffset": 84}}
       }}
     ]}
  ], "spacing": 108, "bounds": "flush"}
],
"center": true, "spacing": 4
}
